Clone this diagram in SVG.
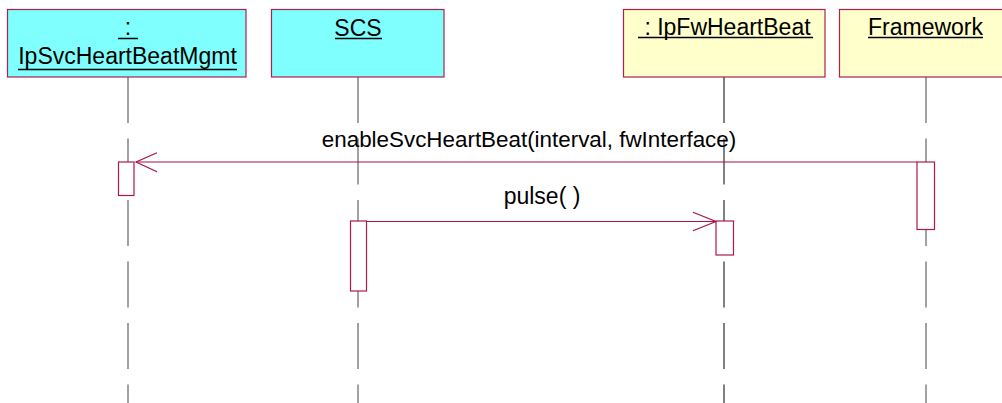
<svg xmlns="http://www.w3.org/2000/svg" width="1002" height="403" viewBox="0 0 1002 403">
<style>
  text { font-family: "Liberation Sans", Arial, sans-serif; font-size: 23px; fill: #000; }
  .box { stroke: #b0204c; stroke-width: 1.2; }
  .cyan { fill: #80ffff; }
  .yellow { fill: #ffffcc; }
  .ul { stroke: #000; stroke-width: 1.5; }
  .life { stroke: #707070; stroke-width: 1.3; stroke-dasharray: 46 15.5; fill: none; }
  .act { fill: #fff; stroke: #b0184c; stroke-width: 1.2; }
  .msg { stroke: #a8104a; stroke-width: 1.2; fill: none; }
</style>
<rect width="1002" height="403" fill="#fff"/>
<g id="lifelines">
  <line class="life" x1="128" y1="77" x2="128" y2="403"/>
  <line class="life" x1="358" y1="77" x2="358" y2="403"/>
  <line class="life" x1="724" y1="77" x2="724" y2="403" style="stroke:#000;stroke-width:1"/>
  <line class="life" x1="926" y1="77" x2="926" y2="403"/>
</g>
<g id="node-IpSvcHeartBeatMgmt">
  <rect class="box cyan" x="7.5" y="9.5" width="238.5" height="67.5"/>
  <text x="128" y="35" text-anchor="middle">:</text>
  <line class="ul" x1="118" y1="38.5" x2="138" y2="38.5"/>
  <text x="127.5" y="64" text-anchor="middle">IpSvcHeartBeatMgmt</text>
  <line class="ul" x1="18" y1="69.5" x2="237" y2="69.5"/>
</g>
<g id="node-SCS">
  <rect class="box cyan" x="271.5" y="9.5" width="172.5" height="67.5"/>
  <text x="358" y="36" text-anchor="middle">SCS</text>
  <line class="ul" x1="335" y1="38.5" x2="382" y2="38.5"/>
</g>
<g id="node-IpFwHeartBeat">
  <rect class="box yellow" x="623.5" y="9.5" width="201.5" height="67.5"/>
  <text x="638" y="35" xml:space="preserve"> : IpFwHeartBeat</text>
  <line class="ul" x1="638" y1="37.5" x2="813" y2="37.5"/>
</g>
<g id="node-Framework">
  <rect class="box yellow" x="839.5" y="9.5" width="175" height="67.5"/>
  <text x="925.5" y="35" text-anchor="middle">Framework</text>
  <line class="ul" x1="868" y1="37.5" x2="983" y2="37.5"/>
</g>
<g id="activations">
  <rect class="act" x="118.5" y="162" width="15.5" height="33.5"/>
  <rect class="act" x="917" y="162" width="17.5" height="67.5"/>
  <rect class="act" x="350.5" y="221" width="16" height="70"/>
  <rect class="act" x="716" y="221" width="17.5" height="34"/>
</g>
<g id="connectors">
  <line class="msg" x1="917" y1="162" x2="136" y2="162"/>
  <polyline class="msg" points="157,152.7 136,162 157,171.7" stroke-width="1.5"/>
  <text x="529" y="147" text-anchor="middle" style="font-size:22.4px">enableSvcHeartBeat(interval, fwInterface)</text>
  <line class="msg" x1="366.5" y1="221.5" x2="716" y2="221.5"/>
  <polyline class="msg" points="693,212.3 716,221.5 693,230.7" stroke-width="1.5"/>
  <text x="542" y="204" text-anchor="middle">pulse( )</text>
</g>
</svg>
